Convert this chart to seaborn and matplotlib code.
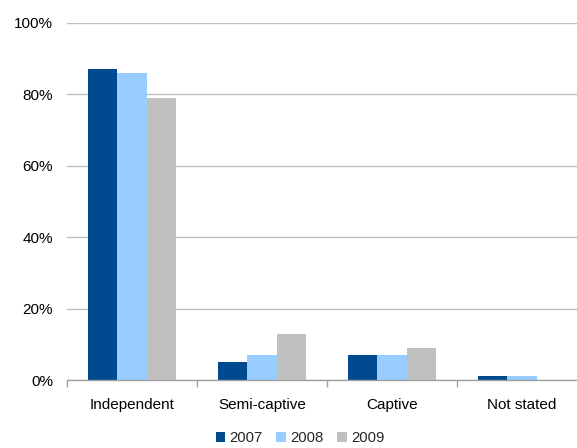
import matplotlib
matplotlib.use("Agg")
import matplotlib.pyplot as plt
import seaborn as sns
import pandas as pd
from matplotlib.ticker import FixedLocator, PercentFormatter

categories = ["Independent", "Semi-captive", "Captive", "Not stated"]
years = ["2007", "2008", "2009"]
share_2007 = [87, 5, 7, 1]
share_2008 = [86, 7, 7, 1]
share_2009 = [79, 13, 9, 0]
colors = ["#004A8F", "#99CCFF", "#C0C0C0"]

df = pd.DataFrame({
    "category": categories * 3,
    "year": [y for y in years for _ in categories],
    "share": share_2007 + share_2008 + share_2009,
})

sns.set_style("white")
plt.rcParams["font.family"] = ["Liberation Sans", "DejaVu Sans"]

fig = plt.figure(figsize=(5.77, 4.48), dpi=100)
ax = fig.add_axes([67 / 577, 68 / 448, 520 / 577, 357 / 448])

sns.barplot(data=df, x="category", y="share", hue="year", order=categories,
            hue_order=years, palette=colors, width=0.67, saturation=1,
            edgecolor="none", linewidth=0, ax=ax, zorder=3)

ax.set_ylim(0, 100)
ax.set_xlim(-0.5, 3.5)
ax.yaxis.set_major_locator(FixedLocator([0, 20, 40, 60, 80, 100]))
ax.yaxis.set_major_formatter(PercentFormatter(decimals=0))
ax.grid(axis="y", color="#BFBFBF", linewidth=1, zorder=0)
ax.grid(axis="x", visible=False)

for side in ["top", "right", "left"]:
    ax.spines[side].set_visible(False)
ax.spines["bottom"].set_color("#A0A0A0")
ax.spines["bottom"].set_linewidth(1)
ax.spines["bottom"].set_zorder(4)

ax.set_xticks(range(len(categories)))
ax.set_xticklabels(categories)
ax.xaxis.set_minor_locator(FixedLocator([-0.5, 0.5, 1.5, 2.5, 3.5]))
ax.tick_params(axis="x", which="major", length=0, pad=13, labelsize=11, labelcolor="#000000")
ax.tick_params(axis="x", which="minor", length=5, width=1, color="#A0A0A0", bottom=True)
ax.tick_params(axis="y", length=0, pad=10, labelsize=11, labelcolor="#000000")
ax.set_xlabel("")
ax.set_ylabel("")

handles, labels = ax.get_legend_handles_labels()
ax.legend_.remove()
fig.legend(handles, labels, loc="center", bbox_to_anchor=(300 / 577, 1 - 438 / 448),
           ncol=3, frameon=False, fontsize=10.7, handlelength=0.65, handleheight=0.65,
           handletextpad=0.3, columnspacing=0.9, borderaxespad=0)

fig.savefig("out.png", dpi=100)
